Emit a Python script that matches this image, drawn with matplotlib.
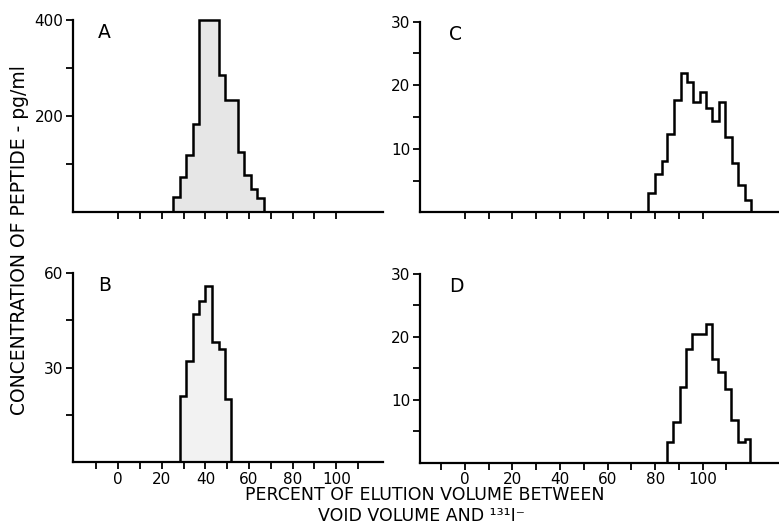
import matplotlib
matplotlib.use("Agg")
import matplotlib.pyplot as plt

# ---- data ----
A_edges = [25.2, 28.2, 31.1, 34.1, 37.1, 46.0, 48.9, 54.9, 57.8, 60.8, 63.8, 66.8]
A_vals = [31, 73, 118, 184, 400, 285, 233, 124, 77, 47, 30]

B_edges = [28.2, 31.1, 34.1, 37.1, 40.0, 43.0, 46.0, 48.9, 51.9]
B_vals = [21, 32, 47, 51, 56, 38, 36, 20]

C_edges = [77.1, 79.9, 82.7, 85.1, 87.9, 90.7, 93.2, 96.0, 98.9, 101.3, 104.1,
           106.9, 109.4, 112.2, 115.0, 117.8, 120.3]
C_vals = [3.1, 6.1, 8.1, 12.3, 17.7, 21.9, 20.5, 17.4, 18.9, 16.4, 14.3, 17.3,
          11.8, 7.7, 4.3, 2.0]

D_edges = [84.8, 87.5, 90.3, 93.1, 95.6, 101.3, 103.8, 106.6, 109.3, 112.1,
           114.9, 117.7, 120.0]
D_vals = [3.3, 6.4, 12, 18, 20.4, 22, 16.5, 14.4, 11.7, 6.8, 3.3, 3.7]

x_labeled = [0, 20, 40, 60, 80, 100]
A_yticks = [100, 200, 300, 400]
A_ylabels = ["", "200", "", "400"]
B_yticks = [15, 30, 45, 60]
B_ylabels = ["", "30", "", "60"]
CD_yticks = [5, 10, 15, 20, 25, 30]
CD_ylabels = ["", "10", "", "20", "", "30"]

W, H = 779, 527
fig = plt.figure(figsize=(W / 100, H / 100), dpi=100)
fig.patch.set_facecolor("white")

FONT = "DejaVu Sans"


def px_axes(left, right, bottom_y, top_y):
    return fig.add_axes([left / W, 1 - bottom_y / H, (right - left) / W,
                         (bottom_y - top_y) / H])


def style(ax, xlim, ymax, yticks, ylabels, xticks, show_xlabels, letter):
    ax.set_xlim(*xlim)
    ax.set_ylim(0, ymax)
    for s in ("top", "right"):
        ax.spines[s].set_visible(False)
    for s in ("left", "bottom"):
        ax.spines[s].set_linewidth(1.6)
    ax.set_yticks(yticks)
    ax.set_yticklabels(ylabels, fontsize=11, family=FONT)
    ax.set_xticks(xticks)
    if show_xlabels:
        ax.set_xticklabels([str(t) if t in x_labeled else "" for t in xticks],
                           fontsize=11, family=FONT)
    else:
        ax.set_xticklabels([])
    ax.tick_params(axis="both", direction="out", length=5, width=1.3, pad=2)
    ax.text(0.08, 0.985, letter, transform=ax.transAxes,
            fontsize=13.5, family=FONT, va="top", ha="left")
    ax.patch.set_alpha(0)


def hist(ax, edges, vals, fillcolor):
    if fillcolor is not None:
        ax.stairs(vals, edges, baseline=0, fill=True, color=fillcolor,
                  linewidth=0, clip_on=False)
    ax.stairs(vals, edges, baseline=0, fill=False, color="black",
              linewidth=1.8, clip_on=False)


axA = px_axes(73, 383, 212, 20)
hist(axA, A_edges, A_vals, "#e6e6e6")
style(axA, (-20.7, 121.4), 400, A_yticks, A_ylabels, list(range(0, 101, 10)),
      False, "A")

axB = px_axes(73, 383, 462, 273)
hist(axB, B_edges, B_vals, "#f2f2f2")
style(axB, (-20.7, 121.4), 60, B_yticks, B_ylabels, list(range(-10, 111, 10)),
      True, "B")

axC = px_axes(420, 779, 212.3, 21.7)
hist(axC, C_edges, C_vals, None)
style(axC, (-18.9, 132.1), 30, CD_yticks, CD_ylabels, list(range(0, 101, 10)),
      False, "C")

axD = px_axes(420, 779, 462.7, 274)
hist(axD, D_edges, D_vals, None)
style(axD, (-18.9, 132.1), 30, CD_yticks, CD_ylabels, list(range(-10, 111, 10)),
      True, "D")

fig.text(20 / W, 1 - 240 / H, "CONCENTRATION OF PEPTIDE - pg/ml", rotation=90,
         ha="center", va="center", fontsize=13.5, family=FONT)
fig.text(425 / W, 1 - 495 / H, "PERCENT OF ELUTION VOLUME BETWEEN",
         ha="center", va="center", fontsize=12.5, family=FONT)
fig.text(421 / W, 1 - 516 / H, "VOID VOLUME AND \u00b9\u00b3\u00b9I\u207b",
         ha="center", va="center", fontsize=12.5, family=FONT)

fig.savefig("out.png", dpi=100, facecolor="white")
